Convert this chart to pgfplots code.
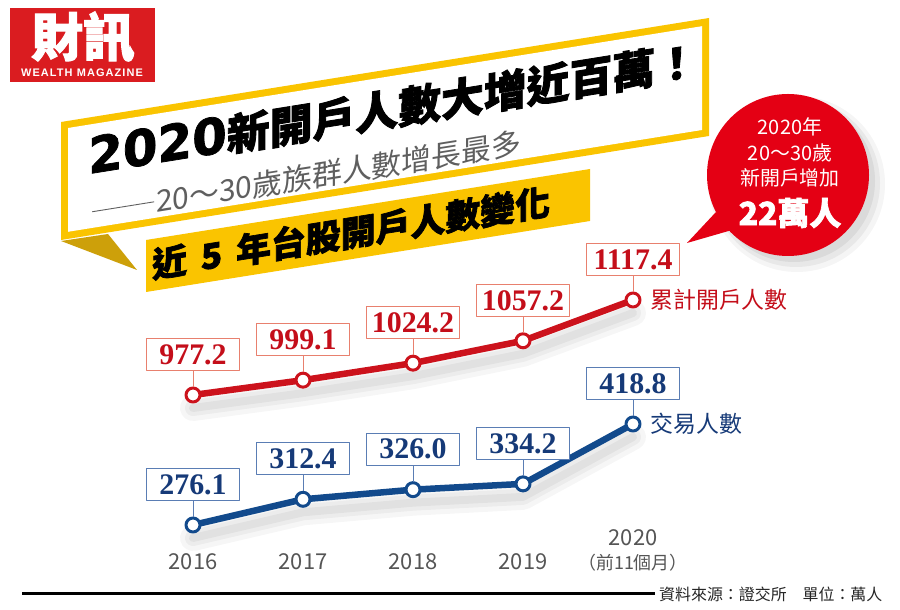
\documentclass[border=0pt]{standalone}
\usepackage{fontspec}
\usepackage{pgfplots}
\pgfplotsset{compat=1.18}
\usepackage{pgfplotstable}
\setmainfont{Noto Sans CJK TC}
\newfontfamily\cjk{Noto Sans CJK TC}
\newfontfamily\heavy[BoldFeatures={FakeBold=2}]{Noto Sans CJK TC}
\newfontfamily\numserif{Liberation Serif}
\newfontfamily\widesans[BoldFeatures={FakeBold=1.5}]{DejaVu Sans}
\newfontfamily\latinsans[LetterSpace=10]{Liberation Sans}

\definecolor{logored}{RGB}{218,28,32}
\definecolor{banneryellow}{RGB}{250,196,0}
\definecolor{folddark}{RGB}{205,160,10}
\definecolor{linered}{RGB}{204,18,28}
\definecolor{boxred}{RGB}{232,128,110}
\definecolor{txtred}{RGB}{196,14,26}
\definecolor{lineblue}{RGB}{18,74,140}
\definecolor{boxblue}{RGB}{90,125,180}
\definecolor{txtblue}{RGB}{22,58,120}
\definecolor{bubblered}{RGB}{228,0,20}
\definecolor{tickgray}{RGB}{85,85,85}
\definecolor{subgray}{RGB}{95,95,95}

\pgfplotstableread{
x y lab
0 977.2 977.2
1 999.1 999.1
2 1024.2 1024.2
3 1057.2 1057.2
4 1117.4 1117.4
}\redtab
\pgfplotstableread{
x y lab
0 276.1 276.1
1 312.4 312.4
2 326.0 326.0
3 334.2 334.2
4 418.8 418.8
}\bluetab

\tikzset{
  redbox/.style={draw=boxred, line width=1bp, fill=white, text=txtred,
    font=\numserif\bfseries\fontsize{30}{31}\selectfont,
    minimum width=93bp, minimum height=32bp, inner sep=0pt, anchor=south, yshift=24bp,
    pin={[pin distance=16bp, inner sep=0pt, minimum size=0pt, pin edge={draw=boxred, line width=0.9bp}]270:{}}},
  bluebox/.style={draw=boxblue, line width=1bp, fill=white, text=txtblue,
    font=\numserif\bfseries\fontsize{30}{31}\selectfont,
    minimum width=93bp, minimum height=32bp, inner sep=0pt, anchor=south, yshift=24bp,
    pin={[pin distance=16bp, inner sep=0pt, minimum size=0pt, pin edge={draw=boxblue, line width=0.9bp}]270:{}}},
}

\begin{document}
\begin{tikzpicture}[x=1bp,y=1bp]
\useasboundingbox (0,0) rectangle (900,610);
\fill[white] (0,0) rectangle (900,610);

% logo
\fill[logored] (10,528) rectangle (155,602);
\node[text=white, inner sep=0pt] at (83,573) {\heavy\bfseries\fontsize{52}{54}\selectfont 財訊};
\node[text=white, inner sep=0pt] at (82,537) {\latinsans\bfseries\fontsize{11}{12}\selectfont WEALTH MAGAZINE};

% banner
\fill[banneryellow] (61,370) -- (61,488) -- (709,592) -- (709,474) -- cycle;
\fill[white] (68,378.2) -- (68,482) -- (702,583.8) -- (702,480) -- cycle;
\fill[folddark] (61,369) -- (108,376) -- (137,340) -- cycle;
\fill[banneryellow] (146,318) -- (146,370) -- (590,441) -- (590,389) -- cycle;

\node[anchor=base west, yslant=0.1605, inner sep=0pt] at (88,436)
  {{\widesans\bfseries\fontsize{50}{52}\selectfont 2020}{\heavy\bfseries\fontsize{43}{46}\selectfont 新開戶人數大增近百萬！}};
\node[anchor=base west, yslant=0.1605, inner sep=0pt, text=subgray] at (92,387)
  {\fontsize{30}{32}\selectfont\rule[0.36em]{62bp}{0.9bp}\hspace{2bp}20～30歲族群人數增長最多};
\node[anchor=base west, yslant=0.1605, inner sep=0pt] at (152,332)
  {\heavy\bfseries\fontsize{35}{37}\selectfont 近\hspace{0.4em}5\hspace{0.4em}年台股開戶人數變化};

% bubble
\fill[black, opacity=0.04] (797,426) circle (88);
\fill[black, opacity=0.05] (796,427) circle (84);
\fill[black, opacity=0.06] (794,429) circle (81);
\fill[bubblered] (716,398) -- (687,367) -- (732,380) -- cycle;
\fill[bubblered] (788,435) circle (81);
\node[text=white] at (790,483) {\fontsize{20}{22}\selectfont 2020年};
\node[text=white] at (790,457) {\fontsize{20}{22}\selectfont 20～30歲};
\node[text=white] at (790,432) {\fontsize{20}{22}\selectfont 新開戶增加};
\node[text=white] at (790,397) {\heavy\bfseries\fontsize{32}{34}\selectfont 22萬人};

% footer
\draw[line width=3bp] (22,16) -- (655,16);
\node[anchor=west, inner sep=0pt, text=black!85] at (659,16) {\fontsize{16}{18}\selectfont 資料來源：證交所　單位：萬人};

% red series
\begin{axis}[
  at={(193bp,215bp)}, anchor=south west,
  width=440bp, height=95bp, scale only axis,
  xmin=0, xmax=4, ymin=977.2, ymax=1117.4,
  hide axis, clip=false,
]
\addplot[forget plot, no markers, draw=black, opacity=0.035, line width=26bp, yshift=-13bp, line cap=round, line join=round] table[x=x,y=y]{\redtab};
\addplot[forget plot, no markers, draw=black, opacity=0.04, line width=16bp, yshift=-13bp, line cap=round, line join=round] table[x=x,y=y]{\redtab};
\addplot[forget plot, no markers, draw=black, opacity=0.045, line width=8bp, yshift=-13bp, line cap=round, line join=round] table[x=x,y=y]{\redtab};
\addplot[linered, line width=6.5bp, line join=round, mark=*, mark size=7bp,
  mark options={fill=white, draw=linered, line width=3bp},
  point meta=explicit symbolic, nodes near coords={\pgfplotspointmeta},
  every node near coord/.style={redbox}]
  table[x=x, y=y, meta=lab]{\redtab}
  node[pos=1, anchor=west, xshift=14bp, text=txtred, inner sep=0pt] {\fontsize{23}{25}\selectfont 累計開戶人數};
\end{axis}

% blue series
\begin{axis}[
  at={(193bp,85bp)}, anchor=south west,
  width=440bp, height=101bp, scale only axis,
  xmin=0, xmax=4, ymin=276.1, ymax=418.8,
  clip=false,
  axis line style={draw=none}, tick style={draw=none}, ytick=\empty,
  xtick={0,1,2,3,4},
  xticklabels={2016,2017,2018,2019,{\fontsize{18}{20}\selectfont （前11個月）}},
  extra x ticks={4}, extra x tick labels={2020},
  extra x tick style={xticklabel style={yshift=24bp}},
  xticklabel style={anchor=base, yshift=-45bp, text=tickgray, font=\fontsize{22}{24}\selectfont},
]
\addplot[forget plot, no markers, draw=black, opacity=0.035, line width=26bp, yshift=-13bp, line cap=round, line join=round] table[x=x,y=y]{\bluetab};
\addplot[forget plot, no markers, draw=black, opacity=0.04, line width=16bp, yshift=-13bp, line cap=round, line join=round] table[x=x,y=y]{\bluetab};
\addplot[forget plot, no markers, draw=black, opacity=0.045, line width=8bp, yshift=-13bp, line cap=round, line join=round] table[x=x,y=y]{\bluetab};
\addplot[lineblue, line width=6.5bp, line join=round, mark=*, mark size=7bp,
  mark options={fill=white, draw=lineblue, line width=3bp},
  point meta=explicit symbolic, nodes near coords={\pgfplotspointmeta},
  every node near coord/.style={bluebox}]
  table[x=x, y=y, meta=lab]{\bluetab}
  node[pos=1, anchor=west, xshift=14bp, text=txtblue, inner sep=0pt] {\fontsize{23}{25}\selectfont 交易人數};
\end{axis}
\end{tikzpicture}
\end{document}
